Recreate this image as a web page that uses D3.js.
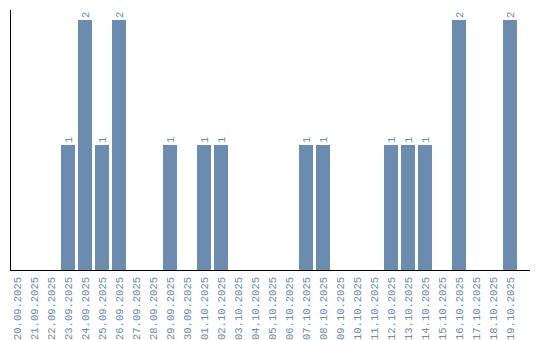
<!DOCTYPE html>
<html>
<head>
<meta charset="utf-8">
<script src="https://cdn.jsdelivr.net/npm/d3@7"></script>
<style>
  body { margin: 0; background: #fff; }
  svg { display: block; }
  text { font-family: "Liberation Mono", monospace; }
</style>
</head>
<body>
<svg id="chart" width="540" height="340"></svg>
<script>
// dates and counts
const dates = [
  "20.09.2025","21.09.2025","22.09.2025","23.09.2025","24.09.2025","25.09.2025",
  "26.09.2025","27.09.2025","28.09.2025","29.09.2025","30.09.2025","01.10.2025",
  "02.10.2025","03.10.2025","04.10.2025","05.10.2025","06.10.2025","07.10.2025",
  "08.10.2025","09.10.2025","10.10.2025","11.10.2025","12.10.2025","13.10.2025",
  "14.10.2025","15.10.2025","16.10.2025","17.10.2025","18.10.2025","19.10.2025"
];
const counts = [0,0,0,1,2,1,2,0,0,1,0,1,1,0,0,0,0,1,1,0,0,0,1,1,1,0,2,0,0,2];

const barColor = "#6b8cae";
const marginLeft = 10, marginTop = 10, baseline = 270, axisRight = 530;

const svg = d3.select("#chart");

const x = d3.scaleBand()
  .domain(dates)
  .range([marginLeft, marginLeft + 17 * 30 - 3])
  .paddingInner(3 / 17)
  .paddingOuter(0);

const y = d3.scaleLinear()
  .domain([0, 2])
  .range([baseline, 20]);

const data = dates.map((d, i) => ({ date: d, value: counts[i] }));
const nonZero = data.filter(d => d.value > 0);

// bars
svg.append("g")
  .selectAll("rect")
  .data(nonZero)
  .join("rect")
  .attr("x", d => x(d.date))
  .attr("y", d => y(d.value))
  .attr("width", x.bandwidth())
  .attr("height", d => y(0) - y(d.value))
  .attr("fill", barColor);

// value labels (rotated)
svg.append("g")
  .selectAll("text")
  .data(nonZero)
  .join("text")
  .attr("transform", d => `translate(${x(d.date) + x.bandwidth() / 2},${y(d.value) - 2}) rotate(-90)`)
  .attr("dy", "0.35em")
  .attr("font-size", 10.5)
  .attr("fill", barColor)
  .text(d => d.value);

// x axis
const xAxis = svg.append("g")
  .attr("transform", `translate(0,${baseline})`)
  .call(d3.axisBottom(x).tickSize(0).tickPadding(0));
xAxis.select(".domain").remove();
xAxis.selectAll("text")
  .attr("font-size", 10.5)
  .attr("fill", barColor)
  .attr("text-anchor", "end")
  .attr("transform", "rotate(-90)")
  .attr("x", -7)
  .attr("y", 0)
  .attr("dy", "0.35em");

// axis lines
svg.append("line")
  .attr("x1", marginLeft).attr("x2", axisRight)
  .attr("y1", baseline + 0.5).attr("y2", baseline + 0.5)
  .attr("stroke", "#000");
svg.append("line")
  .attr("x1", marginLeft + 0.5).attr("x2", marginLeft + 0.5)
  .attr("y1", marginTop).attr("y2", baseline)
  .attr("stroke", "#000");
</script>
</body>
</html>
